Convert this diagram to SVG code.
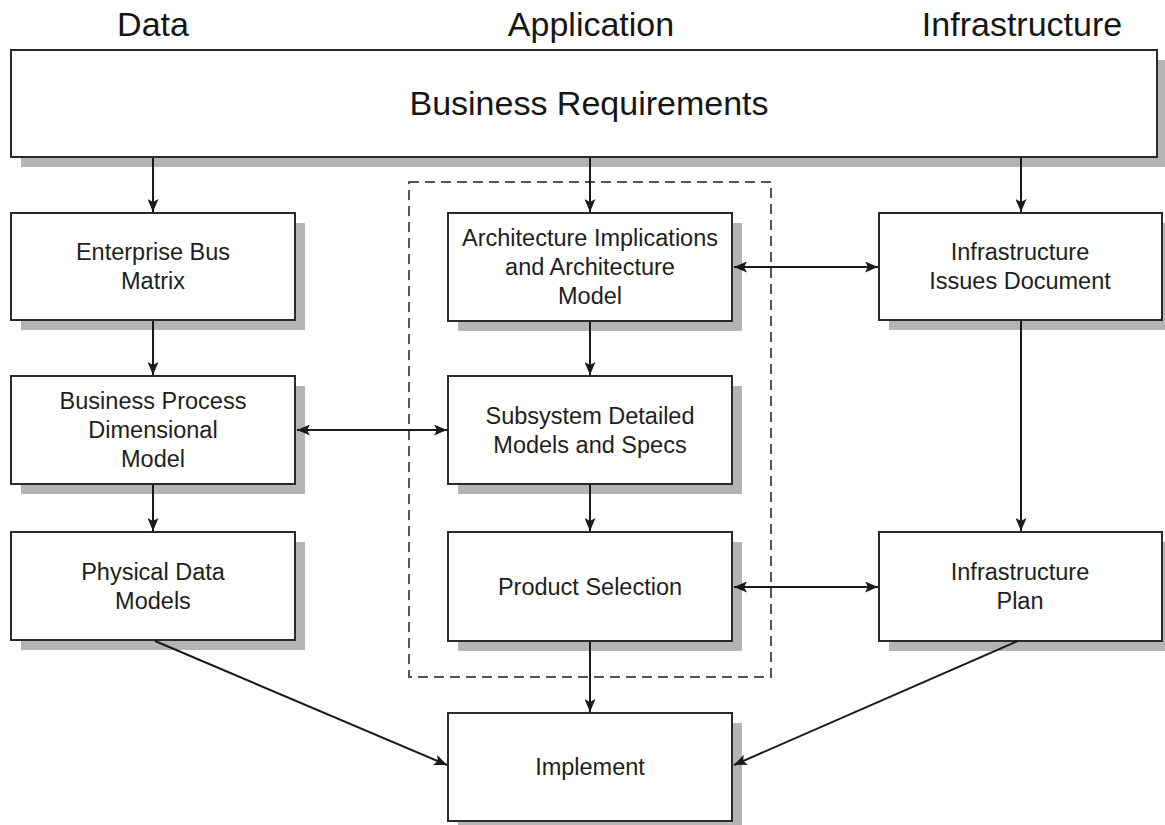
<svg xmlns="http://www.w3.org/2000/svg" width="1165" height="825" viewBox="0 0 1165 825">
  <style>
    .box { fill: #ffffff; stroke: #2a2a2a; stroke-width: 2; }
    .shadow { fill: #b4b4b4; }
    .label { font-family: "Liberation Sans", Arial, sans-serif; font-size: 23.5px; fill: #1e1e1e; text-anchor: middle; }
    .head { font-family: "Liberation Sans", Arial, sans-serif; font-size: 34px; fill: #161616; text-anchor: middle; }
    .link { stroke: #1a1a1a; stroke-width: 2; fill: none; }
    .group { fill: none; stroke: #555; stroke-width: 2; stroke-dasharray: 10 6; }
  </style>
  <defs>
    <marker id="arrow" viewBox="0 0 13 11" refX="13" refY="5.5" markerWidth="13" markerHeight="11" markerUnits="userSpaceOnUse" orient="auto-start-reverse">
      <path d="M0,0 L13,5.5 L0,11 L3,5.5 Z" fill="#1a1a1a"/>
    </marker>
  </defs>

  <rect width="1165" height="825" fill="#ffffff"/>

  <!-- column headings -->
  <text class="head" x="153" y="36">Data</text>
  <text class="head" x="591" y="36">Application</text>
  <text class="head" x="1022" y="36">Infrastructure</text>

  <!-- application group outline -->
  <rect class="group" x="409" y="182" width="362" height="495"/>

  <g id="business-requirements">
    <rect class="shadow" x="21" y="60" width="1146" height="107"/>
    <rect class="box" x="11" y="50" width="1146" height="107"/>
    <text class="head" x="589" y="115">Business Requirements</text>
  </g>

  <g id="enterprise-bus-matrix">
    <rect class="shadow" x="21" y="223" width="284" height="107"/>
    <rect class="box" x="11" y="213" width="284" height="107"/>
    <text class="label"><tspan x="153" y="260">Enterprise Bus</tspan><tspan x="153" y="289">Matrix</tspan></text>
  </g>

  <g id="business-process-model">
    <rect class="shadow" x="21" y="386" width="284" height="108"/>
    <rect class="box" x="11" y="376" width="284" height="108"/>
    <text class="label"><tspan x="153" y="409">Business Process</tspan><tspan x="153" y="438">Dimensional</tspan><tspan x="153" y="467">Model</tspan></text>
  </g>

  <g id="physical-data-models">
    <rect class="shadow" x="21" y="542" width="284" height="108"/>
    <rect class="box" x="11" y="532" width="284" height="108"/>
    <text class="label"><tspan x="153" y="580">Physical Data</tspan><tspan x="153" y="609">Models</tspan></text>
  </g>

  <g id="architecture-model">
    <rect class="shadow" x="458" y="223" width="284" height="108"/>
    <rect class="box" x="448" y="213" width="284" height="108"/>
    <text class="label"><tspan x="590" y="246">Architecture Implications</tspan><tspan x="590" y="275">and Architecture</tspan><tspan x="590" y="304">Model</tspan></text>
  </g>

  <g id="subsystem-models">
    <rect class="shadow" x="458" y="386" width="284" height="108"/>
    <rect class="box" x="448" y="376" width="284" height="108"/>
    <text class="label"><tspan x="590" y="424">Subsystem Detailed</tspan><tspan x="590" y="453">Models and Specs</tspan></text>
  </g>

  <g id="product-selection">
    <rect class="shadow" x="458" y="542" width="284" height="109"/>
    <rect class="box" x="448" y="532" width="284" height="109"/>
    <text class="label" x="590" y="595">Product Selection</text>
  </g>

  <g id="implement">
    <rect class="shadow" x="458" y="723" width="284" height="108"/>
    <rect class="box" x="448" y="713" width="284" height="108"/>
    <text class="label" x="590" y="775">Implement</text>
  </g>

  <g id="infrastructure-issues">
    <rect class="shadow" x="889" y="223" width="283" height="107"/>
    <rect class="box" x="879" y="213" width="283" height="107"/>
    <text class="label"><tspan x="1020" y="260">Infrastructure</tspan><tspan x="1020" y="289">Issues Document</tspan></text>
  </g>

  <g id="infrastructure-plan">
    <rect class="shadow" x="889" y="542" width="283" height="109"/>
    <rect class="box" x="879" y="532" width="283" height="109"/>
    <text class="label"><tspan x="1020" y="580">Infrastructure</tspan><tspan x="1020" y="609">Plan</tspan></text>
  </g>

  <g id="connectors">
    <line class="link" x1="153" y1="158" x2="153" y2="212" marker-end="url(#arrow)"/>
    <line class="link" x1="590" y1="158" x2="590" y2="212" marker-end="url(#arrow)"/>
    <line class="link" x1="1021" y1="158" x2="1021" y2="212" marker-end="url(#arrow)"/>
    <line class="link" x1="153" y1="321" x2="153" y2="375" marker-end="url(#arrow)"/>
    <line class="link" x1="153" y1="485" x2="153" y2="531" marker-end="url(#arrow)"/>
    <line class="link" x1="590" y1="322" x2="590" y2="375" marker-end="url(#arrow)"/>
    <line class="link" x1="590" y1="485" x2="590" y2="531" marker-end="url(#arrow)"/>
    <line class="link" x1="590" y1="642" x2="590" y2="712" marker-end="url(#arrow)"/>
    <line class="link" x1="1021" y1="321" x2="1021" y2="531" marker-end="url(#arrow)"/>
    <line class="link" x1="734" y1="267" x2="878" y2="267" marker-start="url(#arrow)" marker-end="url(#arrow)"/>
    <line class="link" x1="297" y1="430" x2="447" y2="430" marker-start="url(#arrow)" marker-end="url(#arrow)"/>
    <line class="link" x1="734" y1="587" x2="878" y2="587" marker-start="url(#arrow)" marker-end="url(#arrow)"/>
    <line class="link" x1="155" y1="641" x2="447" y2="765" marker-end="url(#arrow)"/>
    <line class="link" x1="1018" y1="641" x2="734" y2="765" marker-end="url(#arrow)"/>
  </g>
</svg>
